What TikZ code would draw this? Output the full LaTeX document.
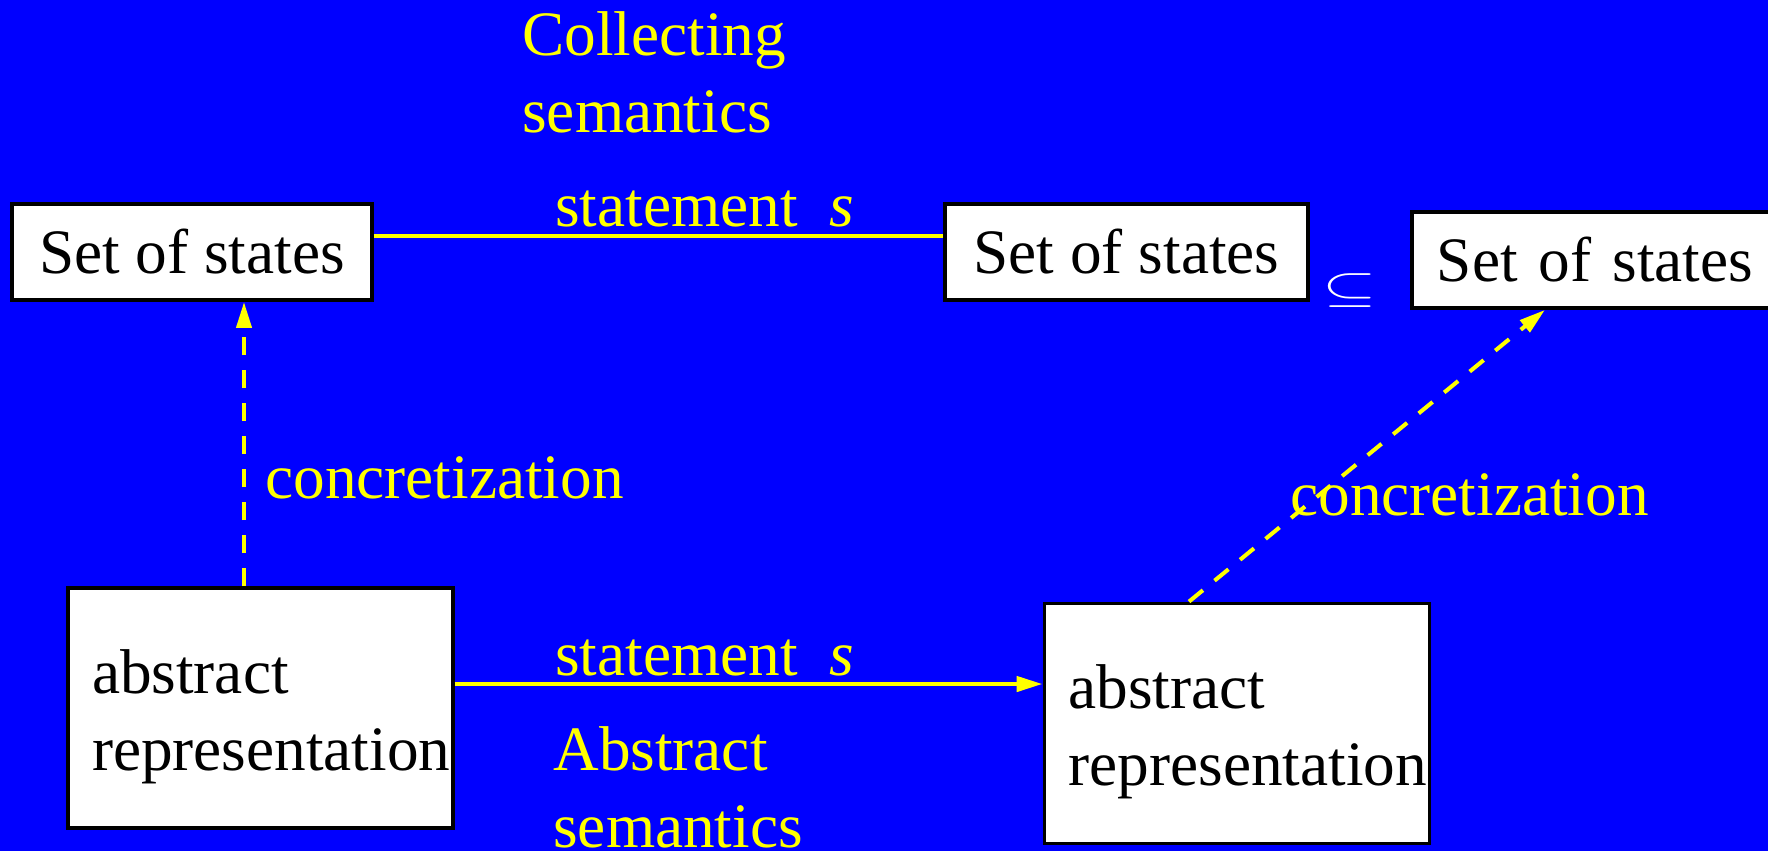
\documentclass[tikz,border=0pt]{standalone}
\usepackage{fontspec}
\setmainfont{Liberation Serif}
\usetikzlibrary{arrows.meta}

\definecolor{slideblue}{HTML}{0000FF}
\definecolor{slideyellow}{HTML}{FFFF00}

\tikzset{
  statebox/.style={draw=black, fill=white, line width=2.2pt, inner sep=0pt, minimum height=1.92cm},
  reprbox/.style={statebox, align=left, inner xsep=0.48cm, text width=6.74cm, minimum height=4.8cm},
  annot/.style={text=slideyellow, inner sep=0pt},
  semline/.style={slideyellow, line width=2.5pt},
  concline/.style={slideyellow, line width=2.3pt, dash pattern=on 0.36cm off 0.3cm}
}

\begin{document}
\begin{tikzpicture}[x=0.02cm, y=-0.02cm, font=\fontsize{36}{43.8}\selectfont,
  >={Triangle[length=0.52cm, width=0.3cm]}]

% Background fixes the page size
\fill[slideblue] (0,0) rectangle (1768,851);
\useasboundingbox (0,0) rectangle (1768,851);
\clip (0,0) rectangle (1768,851);

% Concrete states
\node[statebox, minimum width=7.2cm] (setA) at (192,252) {Set of states};
\node[statebox, minimum width=7.26cm] (setB) at (1126.5,252) {Set of states};
\node[statebox, anchor=west, align=left, inner xsep=0.5cm, text width=6.6cm] (setC) at (1410,260) {Set of states};
\node[text=white, inner sep=0pt, font=\fontsize{25}{25}\selectfont] (incl) at (1349.5,290.5) {\scalebox{1.6}[1]{$\subseteq$}};

% Abstract representations
\node[reprbox] (absD) at (260.5,708) {\rule{0pt}{1.22cm}abstract\\\mbox{representation}};
\node[reprbox] (absE) at (1237,723.5) {\rule{0pt}{1.22cm}abstract\\\mbox{representation}};

% Labels
\node[annot, anchor=west, align=left] (collect) at (522,72) {Collecting\\semantics};
\node[annot, anchor=base west] (stmtTop) at (555,227) {statement\hspace{0.5em}\textit{s}};
\node[annot, anchor=base west] (stmtBot) at (555,675) {statement\hspace{0.5em}\textit{s}};
\node[annot, anchor=west, align=left] (abssem) at (553,787.5) {Abstract\\semantics};
\node[annot, anchor=base west] (concL) at (265,498) {concretization};
\node[annot, anchor=base west] (concR) at (1290,515) {concretization};

% Connectors
\draw[semline] ([yshift=0.32cm]setA.east) -- ([yshift=0.32cm]setA.east -| setB.west);
\draw[semline, ->] ([yshift=0.48cm]absD.east) -- ([yshift=0.48cm]absD.east -| absE.west);
\draw[concline, ->] ([xshift=-0.33cm]absD.north) -- ([xshift=-0.33cm]absD.north |- setA.south);
\draw[concline, ->] ([xshift=-0.96cm]absE.north) -- ([xshift=-1.14cm]setC.south);

\end{tikzpicture}
\end{document}
